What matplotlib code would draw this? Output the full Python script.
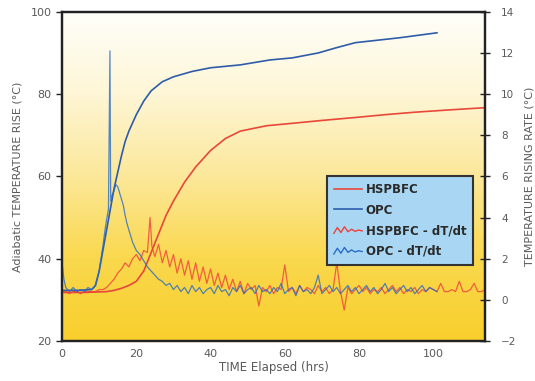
# -*- coding: utf-8 -*-
import matplotlib
matplotlib.use('Agg')
import matplotlib.pyplot as plt
import numpy as np
from matplotlib.colors import LinearSegmentedColormap
from matplotlib.legend_handler import HandlerBase
from matplotlib.lines import Line2D

# temperature rise (deg C) vs time elapsed (hrs)
opc_hours = [0, 4, 8, 9, 10, 11, 12, 13, 14, 15, 16, 17, 18, 20, 22, 24, 27, 30,
             35, 40, 48, 56, 62, 69, 74, 79, 85, 91, 96, 101]
opc_temp = [32.3, 32.3, 32.5, 33.5, 37, 42, 47, 52, 57, 61, 65, 68.5, 71, 75, 78.3,
            80.8, 83, 84.2, 85.5, 86.4, 87.1, 88.3, 88.8, 90, 91.3, 92.5, 93.1,
            93.7, 94.3, 94.9]

hspbfc_hours = [0, 6, 12, 14, 16, 18, 20, 22, 24, 26, 28, 30, 33, 36, 40, 44, 48,
                55, 62, 70, 80, 87, 95, 105, 114]
hspbfc_temp = [31.8, 31.8, 32, 32.3, 32.8, 33.5, 34.5, 37, 41.5, 46, 50.5, 54, 58.6,
               62.3, 66.3, 69.2, 71, 72.3, 72.9, 73.6, 74.4, 75, 75.6, 76.2, 76.7]

# rising rate dT/dt (deg C / hr)
opc_rate_hours = [0, 0.5, 1, 2, 3, 4, 5, 6, 7, 8, 9, 10, 10.5, 11, 11.5, 12, 12.5,
                  12.9, 13.1, 13.5, 14, 14.5, 15, 15.5, 16, 16.5, 17, 17.5, 18,
                  18.5, 19, 20, 21, 22, 23, 24, 25, 26, 27, 28, 29, 30, 31, 32, 33,
                  34, 35, 36, 37, 38, 39, 40, 41, 42, 43, 44, 45, 46, 47, 48, 49,
                  50, 51, 52, 53, 54, 55, 56, 57, 58, 59, 60, 61, 62, 63, 64, 65,
                  66, 67, 68, 69, 70, 71, 72, 73, 74, 75, 76, 77, 78, 79, 80, 81,
                  82, 83, 84, 85, 86, 87, 88, 89, 90, 91, 92, 93, 94, 95, 96, 97,
                  98, 99, 100, 101]
opc_rate = [1.8, 1.0, 0.6, 0.4, 0.6, 0.4, 0.5, 0.4, 0.6, 0.5, 0.7, 1.4, 2.0, 2.6,
            3.3, 3.9, 4.4, 12.1, 4.8, 5.1, 5.3, 5.6, 5.5, 5.2, 4.9, 4.6, 4.1, 3.7,
            3.4, 3.1, 2.8, 2.4, 2.2, 1.9, 1.6, 1.4, 1.2, 1.0, 0.9, 0.7, 0.8, 0.5,
            0.7, 0.4, 0.6, 0.3, 0.7, 0.4, 0.6, 0.3, 0.5, 0.6, 0.3, 0.7, 0.4, 0.5,
            0.2, 0.6, 0.4, 0.7, 0.3, 0.5, 0.6, 0.3, 0.7, 0.4, 0.5, 0.3, 0.6, 0.4,
            0.8, 0.3, 0.5, 0.6, 0.2, 0.7, 0.4, 0.5, 0.3, 0.6, 1.2, 0.3, 0.5, 0.7,
            0.4, 0.6, 0.3, 0.5, 0.7, 0.4, 0.6, 0.3, 0.5, 0.7, 0.4, 0.6, 0.3, 0.5,
            0.8, 0.4, 0.6, 0.3, 0.5, 0.7, 0.4, 0.6, 0.3, 0.5, 0.7, 0.4, 0.6, 0.5,
            0.4]

hspbfc_rate_hours = [0, 1, 2, 3, 4, 5, 6, 7, 8, 9, 10, 11, 12, 13, 14, 15, 16, 17,
                     18, 19, 20, 21, 22, 23, 23.7, 24.2, 25, 26, 27, 28, 29, 30, 31,
                     32, 33, 34, 35, 36, 37, 38, 39, 40, 41, 42, 43, 44, 45, 46, 47,
                     48, 49, 50, 51, 52, 53, 54, 55, 56, 57, 58, 59, 60, 61, 62, 63,
                     64, 65, 66, 67, 68, 69, 70, 71, 72, 73, 74, 75, 76, 77, 78, 79,
                     80, 81, 82, 83, 84, 85, 86, 87, 88, 89, 90, 91, 92, 93, 94, 95,
                     96, 97, 98, 99, 100, 101, 102, 103, 104, 105, 106, 107, 108,
                     109, 110, 111, 112, 113, 114]
hspbfc_rate = [0.4, 0.4, 0.3, 0.4, 0.4, 0.3, 0.4, 0.4, 0.4, 0.4, 0.5, 0.5, 0.6, 0.8,
               1.0, 1.3, 1.5, 1.8, 1.6, 2.0, 2.2, 1.9, 2.4, 2.3, 4.0, 2.6, 2.1, 2.7,
               1.8, 2.4, 1.6, 2.2, 1.3, 2.0, 1.2, 1.9, 1.0, 1.8, 0.9, 1.6, 0.8, 1.5,
               0.7, 1.3, 0.6, 1.2, 0.5, 1.0, 0.4, 0.9, 0.3, 0.8, 0.5, 0.7, -0.3, 0.6,
               0.4, 0.7, 0.3, 0.6, 0.5, 1.7, 0.4, 0.6, 0.3, 0.7, 0.4, 0.6, 0.5, 0.3,
               0.7, 0.4, 0.6, 0.3, 0.5, 1.8, 0.4, -0.5, 0.6, 0.3, 0.5, 0.7, 0.4, 0.6,
               0.3, 0.5, 0.4, 0.6, 0.3, 0.5, 0.7, 0.4, 0.6, 0.3, 0.5, 0.4, 0.6, 0.3,
               0.5, 0.4, 0.6, 0.5, 0.4, 0.8, 0.4, 0.4, 0.5, 0.4, 0.9, 0.4, 0.4, 0.5,
               0.8, 0.4, 0.4, 0.5]

red = '#e8473a'
blue = '#2e5ca8'
red_rate = '#f0403a'
blue_rate = '#2a6cc4'
grey = '#5a5a5a'


class HandlerNoisy(HandlerBase):
    def create_artists(self, legend, orig_handle, xdescent, ydescent, width, height,
                       fontsize, trans):
        xs = np.linspace(0, width, 9) - xdescent
        ys = np.array([0.1, 0.8, 0.2, 0.9, 0.3, 0.6, 0.35, 0.5, 0.4]) * height - ydescent
        line = Line2D(xs, ys, color=orig_handle.get_color(), lw=1.0, transform=trans)
        return [line]


fig = plt.figure(figsize=(5.35, 3.81), dpi=100, facecolor='white')
ax = fig.add_axes([0.116, 0.105, 0.791, 0.864])
ax2 = ax.twinx()

# yellow gradient background
bg = LinearSegmentedColormap.from_list('bg', ['#f8cf2c', '#fad84e', '#fce89a',
                                              '#fef6d6', '#fffffb'])
grad = np.linspace(0, 1, 256).reshape(-1, 1)
ax.imshow(grad, cmap=bg, aspect='auto', extent=[0, 1, 0, 1], origin='lower',
          transform=ax.transAxes, zorder=0)

l1, = ax.plot(hspbfc_hours, hspbfc_temp, color=red, lw=1.2, zorder=3, label='HSPBFC')
l2, = ax.plot(opc_hours, opc_temp, color=blue, lw=1.2, zorder=3, label='OPC')
l3, = ax2.plot(hspbfc_rate_hours, hspbfc_rate, color=red_rate, lw=0.9, alpha=0.8,
               label='HSPBFC - dT/dt')
l4, = ax2.plot(opc_rate_hours, opc_rate, color=blue_rate, lw=0.9, alpha=0.8,
               label='OPC - dT/dt')

ax.set_xlim(0, 114)
ax.set_ylim(20, 100)
ax2.set_ylim(-2, 14)
ax.set_xticks([0, 20, 40, 60, 80, 100])
ax.set_yticks([20, 40, 60, 80, 100])
ax2.set_yticks(range(-2, 15, 2))

for a in (ax, ax2):
    for s in a.spines.values():
        s.set_linewidth(1.6)
        s.set_color('#222222')
ax.tick_params(axis='y', direction='out', length=4, width=1, colors='#222222',
               labelcolor=grey, labelsize=8)
ax.tick_params(axis='x', length=0, labelcolor=grey, labelsize=8, pad=6)
ax2.tick_params(axis='y', direction='inout', length=7, width=1, colors='#222222',
                labelcolor=grey, labelsize=7.5, pad=8)

ax.set_xlabel('TIME Elapsed (hrs)', fontsize=8.5, color=grey, labelpad=1)
ax.set_ylabel('Adiabatic TEMPERATURE RISE (°C)', fontsize=8, color=grey, labelpad=6)
ax2.set_ylabel('TEMPERATURE RISING RATE (°C)', fontsize=8, color=grey, labelpad=6)

leg = ax2.legend(handles=[l1, l2, l3, l4], loc='lower right',
                 bbox_to_anchor=(0.972, 0.231), borderaxespad=0,
                 prop={'size': 8.5, 'weight': 'bold'},
                 frameon=True, fancybox=False, framealpha=1, handlelength=2.4,
                 handletextpad=0.3, borderpad=0.6, labelspacing=0.65,
                 handler_map={l3: HandlerNoisy(), l4: HandlerNoisy()})
leg.get_frame().set_facecolor('#a9d7f3')
leg.get_frame().set_edgecolor('#333333')
leg.get_frame().set_linewidth(1.5)
for t in leg.get_texts():
    t.set_color('#2a2a2a')

fig.savefig('out.png', dpi=100, facecolor='white')
